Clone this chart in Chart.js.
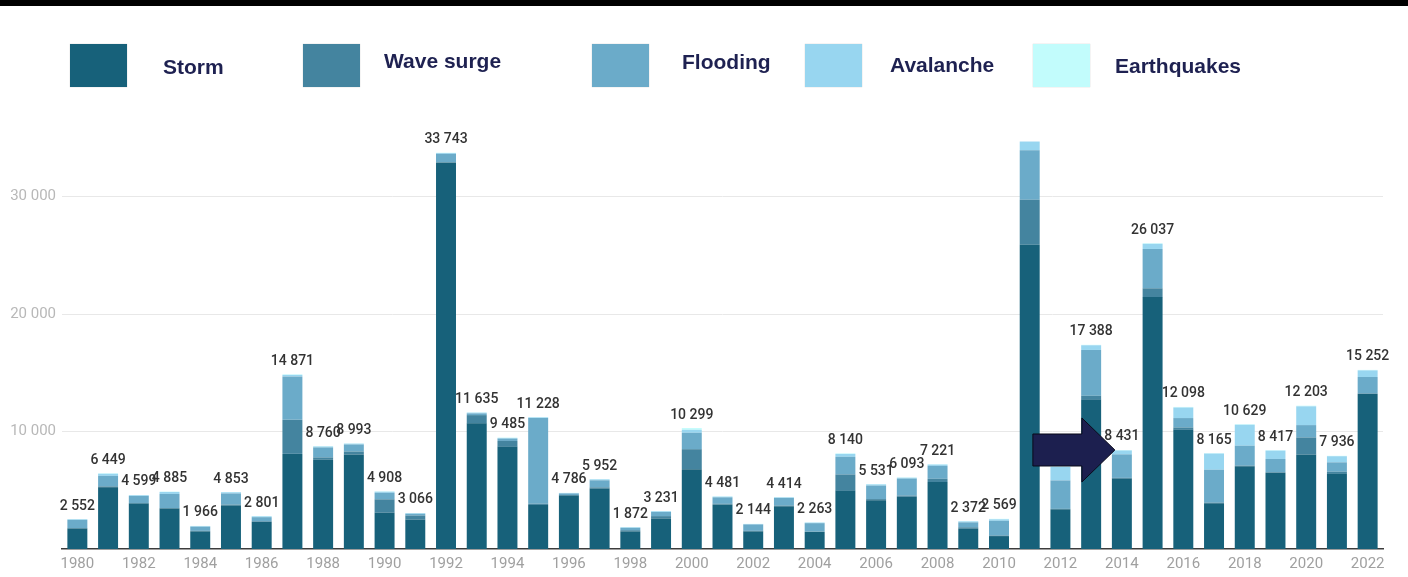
<!DOCTYPE html>
<html>
<head>
<meta charset="utf-8">
<script src="https://cdn.jsdelivr.net/npm/chart.js@4"></script>
<style>
  html, body { margin: 0; padding: 0; background: #fff; }
  #wrap { position: relative; width: 1408px; height: 577px; overflow: hidden; }
  #topbar { position: absolute; left: 0; top: 0; width: 1408px; height: 6px; background: #000; }
  canvas { position: absolute; left: 0; top: 0; }
  .key { position: absolute; top: 44px; width: 57px; height: 43px; box-shadow: 0 0 1px rgba(0,0,0,0.25); }
  .name { position: absolute; font-family: "Liberation Sans", Arial, sans-serif; font-weight: bold;
          font-size: 21px; color: #1e2151; line-height: 24px; white-space: nowrap; }
</style>
</head>
<body>
<div id="wrap">
  <canvas id="lossChart" width="1408" height="577"></canvas>
  <div id="topbar"></div>
  <div id="legend"></div>
</div>
<script>
const years = [
  '1980', '1981', '1982', '1983', '1984', '1985', '1986', '1987', '1988', '1989',
  '1990', '1991', '1992', '1993', '1994', '1995', '1996', '1997', '1998', '1999',
  '2000', '2001', '2002', '2003', '2004', '2005', '2006', '2007', '2008', '2009',
  '2010', '2011', '2012', '2013', '2014', '2015', '2016', '2017', '2018', '2019',
  '2020', '2021', '2022'
];

const storm = [
  1750, 5250, 3850, 3450, 1500, 3700, 2300, 8100, 7600, 8050,
  3100, 2500, 32900, 10700, 8700, 3750, 4550, 5150, 1500, 2600,
  6800, 3800, 1500, 3650, 1450, 4950, 4150, 4450, 5700, 1750,
  1100, 25900, 3380, 12700, 6000, 21450, 10150, 3900, 7050, 6500,
  8050, 6400, 13200
];
const waveSurge = [
  30, 80, 70, 40, 50, 80, 60, 2900, 200, 250,
  1130, 350, 50, 700, 500, 100, 50, 100, 100, 200,
  1700, 50, 50, 50, 30, 1400, 100, 100, 280, 100,
  50, 3850, 40, 350, 60, 750, 200, 50, 50, 50,
  1450, 180, 50
];
const flooding = [
  700, 900, 600, 1200, 350, 950, 350, 3700, 850, 600,
  560, 150, 700, 150, 200, 7300, 130, 600, 200, 350,
  1400, 550, 540, 650, 720, 1500, 1150, 1450, 1100, 420,
  1250, 4200, 2420, 3900, 2000, 3350, 800, 2800, 1700, 1120,
  1050, 800, 1400
];
const avalanche = [
  50, 180, 59, 170, 50, 100, 70, 130, 80, 70,
  90, 50, 70, 60, 60, 60, 40, 80, 50, 60,
  250, 60, 40, 50, 50, 250, 100, 70, 110, 80,
  130, 750, 1150, 400, 330, 440, 900, 1380, 1780, 710,
  1600, 520, 560
];
const earthquakes = [
  22, 39, 20, 25, 16, 23, 21, 41, 30, 23,
  28, 16, 23, 25, 25, 18, 16, 22, 22, 21,
  149, 21, 14, 14, 13, 40, 31, 23, 31, 22,
  39, 0, 44, 38, 41, 47, 48, 35, 49, 37,
  53, 36, 42
];

const seriesNames = ['Storm', 'Wave surge', 'Flooding', 'Avalanche', 'Earthquakes'];
const seriesColors = ['#17617a', '#44849f', '#6babc9', '#98d6f0', '#c2fcfc'];
const yTicks = [10000, 20000, 30000];
const unlabelledYears = ['2011'];
const pointerYear = '2014';

const fmt = v => String(Math.round(v)).replace(/\B(?=(\d{3})+(?!\d))/g, ' ');

// legend boxes above the plot
const legendSpots = [
  { box: 70, text: 163, top: 55 },
  { box: 303, text: 384, top: 49 },
  { box: 592, text: 682, top: 50 },
  { box: 805, text: 890, top: 53 },
  { box: 1033, text: 1115, top: 54 }
];
const legend = document.getElementById('legend');
seriesNames.forEach(function (name, i) {
  const key = document.createElement('div');
  key.className = 'key';
  key.style.left = legendSpots[i].box + 'px';
  key.style.background = seriesColors[i];
  legend.appendChild(key);
  const label = document.createElement('div');
  label.className = 'name';
  label.style.left = legendSpots[i].text + 'px';
  label.style.top = legendSpots[i].top + 'px';
  label.textContent = name;
  legend.appendChild(label);
});

// totals printed above each stacked column
const totalLabels = {
  id: 'totalLabels',
  afterDatasetsDraw(chart) {
    const ctx = chart.ctx;
    const y = chart.scales.y;
    const meta = chart.getDatasetMeta(0);
    ctx.save();
    ctx.font = '500 14px Roboto, sans-serif';
    ctx.fillStyle = '#333333';
    ctx.textAlign = 'center';
    ctx.textBaseline = 'bottom';
    years.forEach(function (year, i) {
      if (unlabelledYears.includes(year)) return;
      const total = chart.data.datasets.reduce((s, d) => s + d.data[i], 0);
      ctx.fillText(fmt(total), meta.data[i].x, y.getPixelForValue(total) - 6);
    });
    ctx.restore();
  }
};

// dark arrow pointing at one column's top corner
const pointerArrow = {
  id: 'pointerArrow',
  afterDraw(chart) {
    const i = years.indexOf(pointerYear);
    const bar = chart.getDatasetMeta(0).data[i];
    const total = chart.data.datasets.reduce((s, d) => s + d.data[i], 0);
    const tipX = bar.x - bar.width / 2 + 3;
    const tipY = chart.scales.y.getPixelForValue(total);
    const ctx = chart.ctx;
    ctx.save();
    ctx.beginPath();
    ctx.moveTo(tipX, tipY);
    ctx.lineTo(tipX - 33, tipY - 32);
    ctx.lineTo(tipX - 33, tipY - 16);
    ctx.lineTo(tipX - 82, tipY - 16);
    ctx.lineTo(tipX - 82, tipY + 16);
    ctx.lineTo(tipX - 33, tipY + 16);
    ctx.lineTo(tipX - 33, tipY + 32);
    ctx.closePath();
    ctx.fillStyle = '#1c1f4f';
    ctx.fill();
    ctx.strokeStyle = '#0a0a1a';
    ctx.lineWidth = 1;
    ctx.stroke();
    ctx.restore();
  }
};

const seriesData = [storm, waveSurge, flooding, avalanche, earthquakes];

new Chart(document.getElementById('lossChart'), {
  type: 'bar',
  data: {
    labels: years,
    datasets: seriesNames.map((name, i) => ({
      label: name,
      data: seriesData[i],
      backgroundColor: seriesColors[i],
      borderWidth: 0,
      barPercentage: 0.65,
      categoryPercentage: 1
    }))
  },
  options: {
    responsive: false,
    animation: false,
    layout: { padding: { top: 138, right: 25, left: 0, bottom: 0 } },
    plugins: { legend: { display: false }, tooltip: { enabled: false } },
    scales: {
      x: {
        stacked: true,
        grid: { display: false, drawTicks: false },
        border: { display: true, color: '#3c3c3c', width: 1.5 },
        ticks: {
          autoSkip: false,
          maxRotation: 0,
          padding: 6,
          color: '#a0a0a0',
          font: { family: 'Roboto', size: 15 },
          callback: function (v, i) { return i % 2 === 0 ? years[i] : ''; }
        },
        afterFit: function (s) { s.height = 28; }
      },
      y: {
        stacked: true,
        min: 0,
        max: 35000,
        border: { display: false },
        grid: { color: '#e8e8e8', lineWidth: 1, drawTicks: false },
        ticks: {
          padding: 6,
          color: '#b8b8b8',
          font: { family: 'Roboto', size: 15 },
          callback: v => fmt(v)
        },
        afterBuildTicks: function (s) { s.ticks = yTicks.map(v => ({ value: v })); },
        afterFit: function (s) { s.width = 62; }
      }
    }
  },
  plugins: [totalLabels, pointerArrow]
});
</script>
</body>
</html>
